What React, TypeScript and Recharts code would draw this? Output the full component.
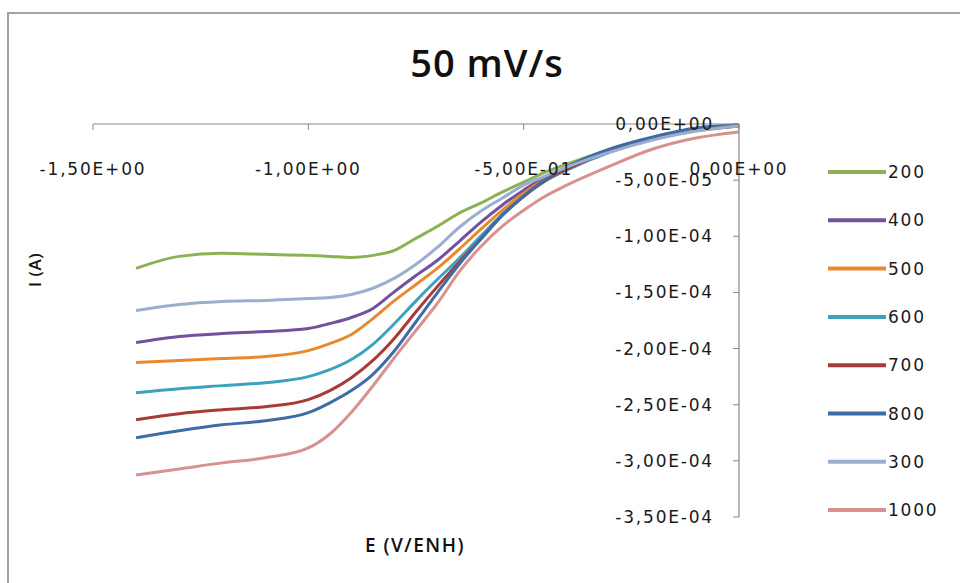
import React from 'react';
import { LineChart, Line, XAxis, YAxis, Legend } from 'recharts';

// Potential E (V/ENH)
const potentials = [-1.40, -1.30, -1.20, -1.10, -1.00, -0.95, -0.90, -0.85, -0.80, -0.75, -0.70, -0.65, -0.60, -0.55, -0.50, -0.45, -0.40, -0.30, -0.20, -0.10, 0.00];

// Current I (A) for each rotation speed
const i200 = [-128.6e-6, -117.9e-6, -115.2e-6, -116.1e-6, -117.0e-6, -117.9e-6, -118.8e-6, -117.0e-6, -112.5e-6, -101.8e-6, -91.1e-6, -79.5e-6, -70.5e-6, -60.7e-6, -51.8e-6, -42.9e-6, -35.7e-6, -23.2e-6, -13.4e-6, -6.3e-6, -1.8e-6];
const i400 = [-194.6e-6, -189.3e-6, -186.6e-6, -184.8e-6, -182.1e-6, -177.7e-6, -172.3e-6, -164.3e-6, -149.3e-6, -134.9e-6, -121.3e-6, -104.7e-6, -87.6e-6, -72.3e-6, -58.9e-6, -47.3e-6, -39.3e-6, -24.1e-6, -13.4e-6, -5.4e-6, -1.8e-6];
const i500 = [-212.5e-6, -210.7e-6, -208.9e-6, -207.1e-6, -201.8e-6, -195.6e-6, -187.5e-6, -173.3e-6, -157.3e-6, -142.9e-6, -128.4e-6, -111.6e-6, -93.9e-6, -76.9e-6, -61.7e-6, -49.1e-6, -40.2e-6, -25.0e-6, -13.4e-6, -5.4e-6, -1.8e-6];
const i600 = [-239.3e-6, -235.7e-6, -233.0e-6, -230.4e-6, -225.0e-6, -218.8e-6, -209.8e-6, -196.2e-6, -177.7e-6, -157.5e-6, -138.3e-6, -119.8e-6, -100.0e-6, -80.6e-6, -64.4e-6, -50.9e-6, -41.1e-6, -25.0e-6, -13.4e-6, -5.4e-6, -1.8e-6];
const i700 = [-263.4e-6, -258.0e-6, -254.5e-6, -251.8e-6, -245.5e-6, -237.4e-6, -225.9e-6, -210.6e-6, -190.8e-6, -167.2e-6, -144.6e-6, -123.2e-6, -102.7e-6, -81.4e-6, -64.4e-6, -50.0e-6, -40.2e-6, -24.1e-6, -12.5e-6, -4.5e-6, -0.9e-6];
const i800 = [-279.5e-6, -273.2e-6, -267.9e-6, -264.3e-6, -257.1e-6, -248.3e-6, -237.4e-6, -222.9e-6, -202.0e-6, -176.1e-6, -150.1e-6, -125.1e-6, -102.7e-6, -81.5e-6, -64.4e-6, -49.1e-6, -38.4e-6, -22.3e-6, -11.6e-6, -3.6e-6, -0.9e-6];
const i300 = [-166.1e-6, -160.7e-6, -158.0e-6, -157.1e-6, -155.4e-6, -154.5e-6, -151.8e-6, -146.3e-6, -137.3e-6, -124.9e-6, -109.7e-6, -92.2e-6, -77.8e-6, -66.1e-6, -54.5e-6, -46.4e-6, -38.4e-6, -25.0e-6, -14.3e-6, -6.3e-6, -1.8e-6];
const i1000 = [-312.5e-6, -307.2e-6, -301.8e-6, -297.3e-6, -288.5e-6, -276.1e-6, -256.7e-6, -233.2e-6, -208.0e-6, -183.8e-6, -159.6e-6, -131.7e-6, -109.3e-6, -91.1e-6, -76.8e-6, -64.3e-6, -54.5e-6, -37.5e-6, -22.3e-6, -12.5e-6, -7.1e-6];

const seriesNames = ['200', '400', '500', '600', '700', '800', '300', '1000'];
const seriesValues = [i200, i400, i500, i600, i700, i800, i300, i1000];
const seriesColors = ['#8CB153', '#72529C', '#E8892F', '#3FA2BC', '#A83A37', '#3D6CA6', '#9AAFCF', '#D9918F'];

const xTicks = [-1.5, -1.0, -0.5, 0];
const yTicks = [0, -5e-5, -1e-4, -1.5e-4, -2e-4, -2.5e-4, -3e-4, -3.5e-4];

const title = '50 mV/s';
const xTitle = 'E (V/ENH)';
const yTitle = 'I (A)';

const data = potentials.map((E, k) => {
  const row: Record<string, number> = { E };
  seriesNames.forEach((n, s) => {
    row['s' + n] = seriesValues[s][k];
  });
  return row;
});

const sci = (v: number) => {
  if (v === 0) return '0,00E+00';
  const a = Math.abs(v);
  const exp = Math.floor(Math.log10(a) + 1e-9);
  const mant = v / Math.pow(10, exp);
  const m = mant.toFixed(2).replace('.', ',');
  const es = (exp < 0 ? '-' : '+') + String(Math.abs(exp)).padStart(2, '0');
  return m + 'E' + es;
};

const tickFont = {
  fontFamily: 'DejaVu Sans',
  fontSize: 17,
  fill: '#1a1a1a',
  letterSpacing: 1.8,
};

const renderLegend = (props: any) => {
  const payload = [...(props.payload || [])].sort(
    (a: any, b: any) => seriesNames.indexOf(String(a.value)) - seriesNames.indexOf(String(b.value))
  );
  return (
    <svg width={130} height={400}>
      {payload.map((p: any, i: number) => {
        const cy = 24 + i * 48.3;
        return (
          <g key={i}>
            <line x1={2} x2={60} y1={cy} y2={cy} stroke={p.color} strokeWidth={4} />
            <text x={62} y={cy} dy="0.36em" fontFamily="DejaVu Sans" fontSize={17} letterSpacing={1.8} fill="#1a1a1a">
              {p.value}
            </text>
          </g>
        );
      })}
    </svg>
  );
};

export default function App() {
  return (
    <div style={{ position: 'fixed', left: 0, top: 0, width: 960, height: 583, overflow: 'hidden', background: '#fff' }}>
      <div style={{ position: 'absolute', left: 7, top: 12, width: 1200, height: 1000, border: '2px solid #a3a3a3', boxSizing: 'border-box' }} />
      <div style={{ position: 'absolute', left: 0, top: 0 }}>
        <LineChart width={960} height={583} data={data} margin={{ top: 124, right: 221, bottom: 66, left: 93 }}>
          <XAxis
            dataKey="E"
            type="number"
            domain={[-1.5, 0]}
            ticks={xTicks}
            orientation="top"
            mirror
            height={1}
            tickSize={6}
            tickMargin={33}
            tickFormatter={sci}
            axisLine={{ stroke: '#878787', strokeWidth: 1.2 }}
            tickLine={{ stroke: '#878787' }}
            tick={tickFont}
            interval={0}
          />
          <YAxis
            type="number"
            domain={[-3.5e-4, 0]}
            ticks={yTicks}
            orientation="right"
            mirror
            width={1}
            tickSize={6}
            tickMargin={19}
            tickFormatter={sci}
            axisLine={{ stroke: '#878787', strokeWidth: 1.2 }}
            tickLine={{ stroke: '#878787' }}
            tick={tickFont}
            interval={0}
          />
          <Legend
            layout="vertical"
            align="center"
            verticalAlign="middle"
            content={renderLegend}
            wrapperStyle={{ left: 826, top: 148, width: 130, height: 400 }}
          />
          {seriesNames.map((n, s) => (
            <Line
              key={n}
              name={n}
              dataKey={'s' + n}
              type="monotone"
              stroke={seriesColors[s]}
              strokeWidth={3}
              dot={false}
              activeDot={false}
              isAnimationActive={false}
            />
          ))}
        </LineChart>
      </div>
      <div style={{ position: 'absolute', left: 0, width: 960, top: 38, textAlign: 'center', paddingLeft: 14, boxSizing: 'border-box', fontFamily: 'Open Sans', fontWeight: 600, fontSize: 38, letterSpacing: 1, color: '#111', lineHeight: '48px' }}>
        {title}
      </div>
      <div style={{ position: 'absolute', left: 335, width: 160, top: 532, textAlign: 'center', fontFamily: 'Open Sans', fontWeight: 600, fontSize: 19, letterSpacing: 1.5, color: '#111', lineHeight: '26px' }}>
        {xTitle}
      </div>
      <div style={{ position: 'absolute', left: 35, top: 270, width: 0, height: 0 }}>
        <div style={{ position: 'absolute', left: -40, top: -13, width: 80, textAlign: 'center', transform: 'rotate(-90deg)', fontFamily: 'Open Sans', fontWeight: 600, fontSize: 17, letterSpacing: 0.5, color: '#111', lineHeight: '26px' }}>
          {yTitle}
        </div>
      </div>
    </div>
  );
}
